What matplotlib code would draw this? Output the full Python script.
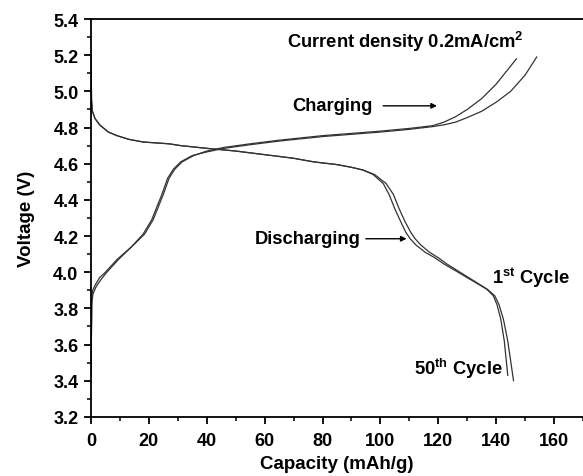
#!/usr/bin/env python3
"""Charge/discharge voltage profiles, 1st and 50th cycle."""
import matplotlib
matplotlib.use("Agg")
import matplotlib.pyplot as plt
from matplotlib.ticker import MultipleLocator

plt.rcParams["font.family"] = ["Liberation Sans", "DejaVu Sans"]
plt.rcParams["font.weight"] = "bold"
plt.rcParams["mathtext.fontset"] = "custom"
plt.rcParams["mathtext.rm"] = "Liberation Sans:bold"
plt.rcParams["mathtext.bf"] = "Liberation Sans:bold"

# axis ticks
x_ticks = [0, 20, 40, 60, 80, 100, 120, 140, 160]
y_ticks = [3.2, 3.4, 3.6, 3.8, 4.0, 4.2, 4.4, 4.6, 4.8, 5.0, 5.2, 5.4]

# charge curves
chg1_cap = [0, 0.3, 0.6, 1.5, 3, 5, 9, 14, 18, 21, 23, 24.5, 26.5, 28.5, 31, 35, 40, 46, 55,
            65, 80, 88, 100, 110, 118, 122, 126, 130, 135, 140, 145, 150, 154]
chg1_v = [3.42, 3.85, 3.90, 3.93, 3.97, 4.00, 4.07, 4.14, 4.21, 4.29, 4.37, 4.43, 4.52, 4.57,
          4.61, 4.645, 4.665, 4.685, 4.705, 4.725, 4.75, 4.76, 4.775, 4.79, 4.805, 4.815,
          4.83, 4.855, 4.89, 4.94, 5.00, 5.09, 5.19]
chg50_cap = [0, 0.3, 0.7, 1.8, 3.5, 5.5, 9.5, 14, 18.5, 21.5, 23.5, 25, 27, 29, 31.5, 35.5,
             40, 46, 55, 65, 80, 88, 100, 110, 118, 122, 126, 130, 135, 140, 144, 147]
chg50_v = [3.45, 3.83, 3.88, 3.92, 3.96, 4.00, 4.07, 4.14, 4.21, 4.29, 4.37, 4.43, 4.52, 4.57,
           4.61, 4.645, 4.67, 4.69, 4.71, 4.73, 4.755, 4.765, 4.78, 4.795, 4.81, 4.83,
           4.86, 4.90, 4.96, 5.04, 5.12, 5.18]

# discharge curves
dis1_cap = [0, 0.2, 0.5, 1.4, 3, 6, 9, 13, 18, 27, 31, 40, 50, 60, 70, 77, 85, 90, 94, 98,
            102, 104.5, 106.5, 108.5, 110.5, 112, 114, 117, 120, 123, 127, 131, 134, 137,
            139.5, 141, 142.5, 144, 145, 146]
dis1_v = [5.20, 4.95, 4.89, 4.85, 4.815, 4.775, 4.755, 4.735, 4.72, 4.71, 4.70, 4.685, 4.67,
          4.65, 4.63, 4.61, 4.595, 4.58, 4.565, 4.54, 4.49, 4.43, 4.35, 4.28, 4.22, 4.185,
          4.15, 4.11, 4.08, 4.045, 4.005, 3.965, 3.935, 3.905, 3.87, 3.82, 3.74, 3.62, 3.51,
          3.40]
dis50_cap = [0, 0.2, 0.5, 1.4, 3, 6, 9, 13, 18, 27, 31, 40, 50, 60, 70, 77, 85, 90, 94, 97.5,
             101, 103, 105, 107, 108.8, 110.3, 112.3, 115.5, 118.8, 122, 126.3, 130.5, 133.7,
             136.8, 139, 140.3, 141.6, 142.8, 143.5, 144]
dis50_v = [5.20, 4.95, 4.89, 4.85, 4.815, 4.775, 4.755, 4.735, 4.72, 4.71, 4.70, 4.685, 4.67,
           4.65, 4.63, 4.61, 4.595, 4.58, 4.565, 4.54, 4.49, 4.43, 4.35, 4.28, 4.22, 4.185,
           4.15, 4.11, 4.08, 4.045, 4.005, 3.965, 3.935, 3.905, 3.87, 3.82, 3.74, 3.62, 3.51,
           3.43]

fig = plt.figure(figsize=(5.83, 4.77), dpi=100)
ax = fig.add_axes([0.156, 0.124, 0.844, 0.834])

for cap, v in [(chg1_cap, chg1_v), (chg50_cap, chg50_v), (dis1_cap, dis1_v), (dis50_cap, dis50_v)]:
    ax.plot(cap, v, color="#333333", linewidth=0.9)

ax.set_xlim(0, 170)
ax.set_ylim(3.2, 5.4)
ax.set_xticks(x_ticks, [str(t) for t in x_ticks], fontweight="bold", fontsize=13)
ax.set_yticks(y_ticks, [f"{t:.1f}" for t in y_ticks], fontweight="bold", fontsize=13)
ax.xaxis.set_minor_locator(MultipleLocator(10))
ax.yaxis.set_minor_locator(MultipleLocator(0.1))
ax.tick_params(axis="x", which="major", pad=6)
ax.tick_params(axis="y", which="major", pad=4)
ax.tick_params(which="major", direction="out", length=5, width=1.3)
ax.tick_params(which="minor", direction="out", length=3, width=1.1)
for s in ["left", "bottom", "top"]:
    ax.spines[s].set_linewidth(1.3)
ax.spines["right"].set_visible(False)

ax.set_xlabel("Capacity (mAh/g)", fontsize=13.5, fontweight="bold", labelpad=4)
ax.set_ylabel("Voltage (V)", fontsize=13.5, fontweight="bold", labelpad=13)

fs = 13.2
ax.text(67.6, 5.28, r"Current density 0.2mA/cm$^2$", fontsize=fs, fontweight="bold", va="center")
ax.text(69.7, 4.92, "Charging", fontsize=fs, fontweight="bold", va="center")
ax.annotate("", xy=(120.5, 4.92), xytext=(100, 4.92),
            arrowprops=dict(arrowstyle="-|>", color="black", lw=1, mutation_scale=8))
ax.text(56.6, 4.185, "Discharging", fontsize=fs, fontweight="bold", va="center")
ax.annotate("", xy=(110, 4.185), xytext=(94, 4.185),
            arrowprops=dict(arrowstyle="-|>", color="black", lw=1, mutation_scale=8))
ax.text(138.6, 3.975, r"1$^{\mathrm{st}}$ Cycle", fontsize=fs, fontweight="bold", va="center")
ax.text(111.7, 3.47, r"50$^{\mathrm{th}}$ Cycle", fontsize=fs, fontweight="bold", va="center")

fig.savefig("out.png", dpi=100)
